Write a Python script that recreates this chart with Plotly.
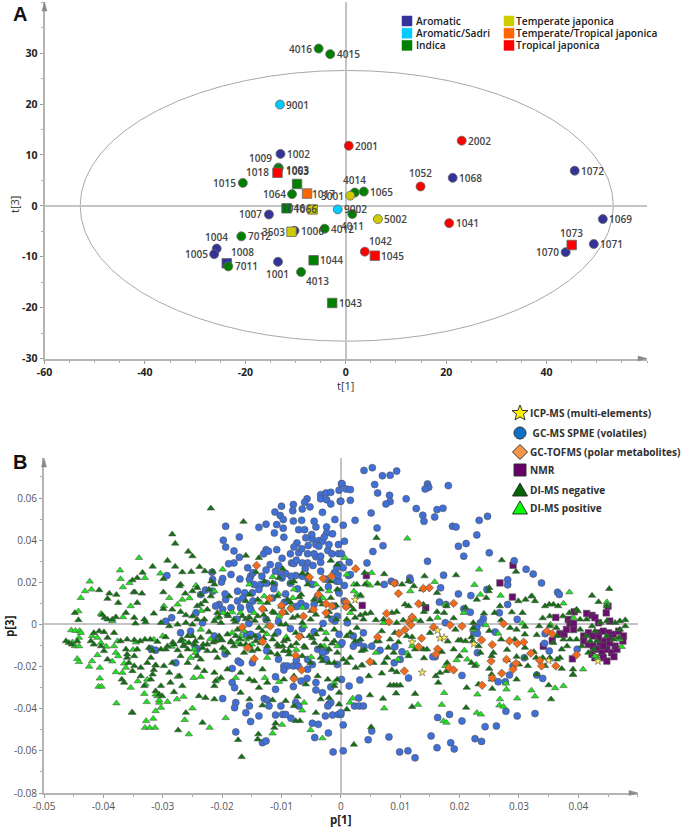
import plotly.graph_objects as go

W, H = 685, 829

# ---------- Panel A: score plot t[1] / t[3] ----------
SAMPLE_IDS = ["4016","4015","9001","2001","2002","1002","1009","1072","1068","1052","1015","1003","1063","1018","1010","1017","1064","3001","4014","1065","1046","1066","9002","4011","5002","1007","1006","3503","4012","7012","1004","1005","1008","7011","1001","1044","4013","1042","1045","1043","1041","1069","1071","1070","1073"]
T1 = [-5.4,-3.1,-13.1,0.6,23.1,-13.0,-13.4,45.6,21.3,14.9,-20.5,-13.4,-13.4,-13.6,-9.7,-7.7,-10.7,0.9,1.8,3.6,-11.8,-6.6,-1.6,1.3,6.4,-15.3,-10.2,-10.8,-4.2,-20.8,-25.7,-26.2,-23.7,-23.4,-13.5,-6.4,-8.9,3.8,5.8,-2.7,20.6,51.2,49.4,43.8,45.0]
T3 = [30.9,29.8,19.9,11.8,12.8,10.2,7.5,6.9,5.5,3.8,4.5,7.4,7.3,6.5,4.3,2.4,2.3,2.0,2.6,2.8,-0.5,-0.7,-0.7,-1.6,-2.6,-1.7,-4.9,-5.1,-4.5,-6.0,-8.4,-9.5,-11.3,-11.9,-11.0,-10.7,-13.0,-9.0,-9.8,-19.1,-3.4,-2.6,-7.5,-9.1,-7.7]
GROUPS = ["Indica","Indica","Aromatic/Sadri","Tropical japonica","Tropical japonica","Aromatic","Aromatic","Aromatic","Aromatic","Tropical japonica","Indica","Indica","Indica","Tropical japonica","Indica","Temperate/Tropical japonica","Indica","Temperate japonica","Indica","Indica","Indica","Temperate japonica","Aromatic/Sadri","Indica","Temperate japonica","Aromatic","Aromatic","Temperate japonica","Indica","Indica","Aromatic","Aromatic","Aromatic","Indica","Aromatic","Indica","Indica","Tropical japonica","Tropical japonica","Indica","Tropical japonica","Aromatic","Aromatic","Aromatic","Tropical japonica"]
SQUARE_IDS = ["1018","1010","1017","1046","1066","3503","1008","1044","1045","1043","1073"]
UNLABELLED = ["1010"]
GROUP_NAMES_LEFT = ["Aromatic","Aromatic/Sadri","Indica"]
GROUP_NAMES_RIGHT = ["Temperate japonica","Temperate/Tropical japonica","Tropical japonica"]
GROUP_COLORS = {"Aromatic":"#333399","Aromatic/Sadri":"#00CCFF","Indica":"#008000","Temperate japonica":"#CCCC00","Temperate/Tropical japonica":"#FF6600","Tropical japonica":"#FF0000"}
ELLIPSE_T1 = [-52.9, 53.3]
ELLIPSE_T3 = [-26.6, 26.6]
A_XTICKS = [-60,-40,-20,0,20,40]
A_YTICKS = [30,20,10,0,-10,-20,-30]
# label offsets from the sample's point, in screen pixels (right, down)
LABEL_OFFSETS = {"4016":(-18,0),"1009":(-18,-10),"1018":(-20,-1),"1003":(19,2),"1063":(19,2),"1017":(16,0),"3001":(-18,0),"4014":(0,-13),"1064":(-18,0),"1015":(-18,0),"1052":(0,-13),"1046":(7,0),"1066":(-7,0),"4011":(0,12),"1007":(-18,0),"3503":(-18,0),"1004":(0,-12),"1005":(-18,0),"1008":(16,-11),"1001":(0,12),"4013":(16,9),"1042":(16,-11),"1070":(-18,0),"1073":(0,-12)}

# ---------- Panel B: loading plot p[1] / p[3] ----------
GC_SPME = [(.0001,.0668),(-.0003,.0637),(-.0034,.0616),(-.0025,.0624),(-.0017,.0627),(-.0034,.0596),(-.0024,.0592),(-.0017,.0572),(-.0001,.0585),(-.0057,.0596),(-.0061,.058),(-.0065,.0548),(-.0052,.0558),(-.008,.0569),(-.01,.0561),(-.0081,.054),(-.0111,.0534),(-.0102,.0517),(-.0097,.0498),(-.0108,.0474),(-.0097,.0457),(-.0112,.0434),(-.0096,.0414),(-.0126,.0476),(-.0138,.0461),(-.0171,.0415),(-.0194,.0466),(-.0198,.04),(-.0194,.0367),(-.018,.0349),(-.0171,.0319),(-.018,.0292),(-.0189,.0288),(-.0157,.0269),(-.0126,.0355),(-.013,.0335),(-.0122,.0348),(-.0108,.0355),(-.0099,.0314),(-.0119,.0284),(-.0126,.0258),(-.0133,.0229),(-.011,.0253),(-.0083,.0292),(-.0079,.0289),(-.0074,.0387),(-.0079,.0368),(-.0071,.034),(-.0066,.0359),(-.0056,.0336),(-.0065,.0292),(-.0056,.0292),(-.0047,.028),(-.0034,.0295),(-.0042,.0321),(-.0034,.0324),(-.0048,.0406),(-.0042,.0463),(-.0045,.049),(-.0031,.0532),(-.001,.0498),(-.0024,.0463),(-.0024,.0434),(-.0014,.043),(-.0066,.0494),(-.008,.0491),(-.0071,.045),(-.0061,.045),(-.0049,.0427),(-.0037,.0398),(-.0031,.0395),(-.0059,.0411),(-.0042,.0379),(-.0037,.0371),(-.0022,.0351),(-.0004,.0336),(-.002,.0379),(-.0004,.0379),(-.0002,.0284),(-.0007,.0269),(-.0034,.0253),(-.0007,.0205),(-.0021,.0179),(-.0004,.0158),(-.0048,.019),(-.0065,.0229),(-.0076,.0232),(-.0084,.0229),(-.0093,.0242),(-.0101,.0237),(-.0099,.0221),(-.0112,.019),(-.0113,.0169),(-.0093,.0145),(-.0073,.0169),(-.0135,.019),(-.0138,.0166),(-.0146,.019),(-.0152,.0229),(-.0148,.0245),(-.0154,.0213),(-.017,.0216),(-.0185,.0237),(-.0217,.0248),(-.0199,.0218),(-.0201,.0201),(-.0216,.0213),(-.0293,.0232),(-.0216,.0158),(-.0205,.0095),(-.0194,.0118),(-.0211,.0087),(-.0199,.0071),(-.0185,.0079),(-.0174,.0111),(-.0169,.0079),(-.0154,.0087),(-.0148,.0111),(-.0149,.015),(-.0174,.0158),(-.0162,.015),(-.0152,.0071),(-.0228,.0163),(-.0236,.0142),(-.0244,.0055),(-.0233,.0008),(-.0285,.0032),(-.027,-.0039),(-.0253,-.0032),(-.0213,-.0055),(-.0207,-.0066),(-.0159,-.0047),(-.0152,-.0047),(-.014,-.0058),(-.0126,.0024),(-.0106,-.0036),(-.032,-.0115),(-.0312,-.0122),(-.0242,-.0118),(-.0278,-.0182),(-.0173,-.0174),(-.0183,-.0209),(-.0169,-.0182),(-.0149,-.0182),(-.0096,-.0197),(-.009,-.0197),(-.008,-.0197),(-.0072,-.0197),(-.0096,-.0216),(-.011,-.0248),(-.0056,-.0213),(-.0057,-.0256),(-.0067,-.0269),(-.008,-.0295),(-.011,-.0308),(-.0042,-.0276),(-.0042,-.0311),(-.0031,-.0324),(-.0017,-.0297),(-.0006,-.019),(0,-.0095),(-.0003,-.0047),(-.0025,-.0126),(-.0039,-.0118),(-.0031,-.0134),(-.0056,-.0166),(-.0048,-.019),(-.0183,-.0276),(-.0179,-.03),(-.0199,-.0352),(-.0177,-.0371),(-.0179,-.0395),(-.0154,-.0387),(-.016,-.0419),(-.0152,-.0461),(-.0138,-.0434),(-.0129,-.0352),(-.0124,-.0359),(-.0121,-.0387),(-.011,-.043),(-.0101,-.0387),(-.0098,-.0427),(-.0093,-.0427),(-.0084,-.0445),(-.0076,-.0371),(-.0071,-.0387),(-.002,-.0379),(-.0017,-.0371),(-.0022,-.0387),(-.0026,-.0434),(-.0014,-.043),(-.0004,-.0427),(0,-.0427),(-.0048,-.0469),(-.0038,-.0474),(-.0044,-.0537),(-.0021,-.0515),(-.0177,-.051),(-.0132,-.0561),(-.0126,-.0553),(-.0013,-.0605),(-.0067,.0101),(-.0059,.0087),(-.0011,.0087),(-.0006,.0039),(-.001,.0016),(-.0003,.0149),(-.0039,.0134),(-.0011,.0245),(-.0003,.0205),
(-.0085,.0335),(-.0075,.0305),(-.0055,.0375),(-.0028,.0415),(-.0015,.0335),(-.0045,.0335),(-.006,.0265),(-.0105,.028),(-.0125,.0195),(-.0085,.0195),(-.0055,.0215),(-.0025,.0215),(-.0005,.0235),(-.0115,.0125),(-.0095,.0105),(-.0075,.0085),(-.0045,.0095),(-.0175,.0025),(-.0165,.0125),(-.0195,.0145),(-.0155,.0005),(-.0125,-.0125),(-.0105,-.0165),(-.0075,-.017),(-.0025,-.0165),(-.0195,-.014),(-.0245,-.011),(-.0295,.0015),(-.0015,.0025),(-.003,.0005),(-.0045,-.0035),(-.0065,-.002),(-.0085,-.002),(-.0105,.0015),
(.0039,.0731),(.0053,.0744),(.007,.0706),(.0083,.0708),(.0094,.0728),(.0057,.0664),(.0062,.0624),(.0002,.0668),(.0009,.0643),(.0016,.064),(.0016,.0589),(0,.0585),(.0082,.0613),(.0083,.0583),(.0076,.0572),(.011,.0596),(.0146,.0667),(.0148,.0651),(.0142,.0643),(.0181,.0659),(.0127,.055),(.0162,.0545),(.0172,.0551),(.0138,.0518),(.014,.049),(.0158,.051),(.0051,.0529),(.0024,.0494),(.0004,.0471),(.0061,.0458),(.0188,.0466),(.0194,.0463),(.0233,.0494),(.0247,.0513),(.0229,.0425),(.0198,.0371),(.0211,.0384),(.0006,.0395),(.0071,.0374),(.0054,.0346),(.0001,.0336),(.0207,.0324),(.025,.034),(.0146,.03),(.0014,.0295),(.0004,.0269),(.0044,.0292),(.0292,.0302),(.0312,.0262),(.0324,.0239),(.0338,.0197),(.0281,.0212),(.0281,.0188),(.0365,.0153),(.0368,.0142),(.0173,.0234),(.0116,.0221),(.0117,.021),(.0085,.0205),(.0091,.0197),(.0073,.019),(.0013,.0232),(.0006,.0185),(.0016,.0237),(.0168,.0174),(.0198,.0145),(.0219,.0137),(.0246,.0166),(.0281,.0095),(.0207,.0074),(.0218,.0058),(.0166,.0106),(.0177,.0095),(.0267,.0055),(.0297,.0024),(.024,.0027),(.0235,.0008),(.0176,.0008),(.0229,-.0016),(.0224,-.004),(.023,-.0043),(.026,-.0036),(.0344,-.0044),(.0343,-.009),(.0351,-.0126),(.0398,-.0118),(.0091,-.0106),(.0066,-.0123),(.0052,-.0103),(.0039,-.0106),(.0021,-.0103),(.003,-.0087),(.0038,-.004),(.0103,-.013),(.0011,.0008),(.0006,.0111),(.0009,.0087),(.0021,-.0055),(.0002,-.0087),(.0159,-.0153),(.0155,-.0153),(.01,-.0166),(.009,-.0182),(.0114,-.0254),(.0204,-.0242),(.0284,-.024),(.033,-.024),(.034,-.0256),(.0265,-.0272),(.0277,-.0272),(.0309,-.0158),(.029,-.0197),(.023,-.0134),(.0032,-.0264),(.0014,-.0292),(.0001,-.0261),(.003,-.0349),(.0023,-.0387),(.0031,-.0387),(.0038,-.0387),(0,-.0419),(.0327,-.0423),(.0297,-.0434),(.0278,-.0412),(.0163,-.0442),(.0183,-.0427),(.0204,-.0458),(.0243,-.0485),(.0262,-.0482),(.0152,-.0529),(.0081,-.0534),(.0046,-.0547),(.0052,-.0506),(.0004,-.0477),(.0004,-.06),(.0099,-.0605),(.0113,-.06),(.0125,-.0633),(.0162,-.0585),(.0185,-.0562),(.0191,-.0591),(.0226,-.0542),(.0237,-.0555)]

DI_NEG = [(-.0219,.0551),(-.0164,.0488),(-.0284,.0428),(-.0279,.0384),(-.0257,.0346),(-.025,.0324),(-.0292,.0303),(-.0317,.0275),(-.0279,.0275),(-.0334,.0246),(-.0343,.0221),(-.0351,.021),(-.0267,.0248),(-.0252,.025),(-.0238,.0273),(-.0229,.0253),(-.0299,.0216),(-.0216,.0251),(-.016,.0327),(-.0138,.0316),(-.0143,.0248),(-.0407,.0163),(-.039,.0147),(-.0393,.0122),(-.0378,.0141),(-.0375,.0103),(-.0349,.0153),(-.0347,.0153),(-.0335,.0147),(-.0343,.0103),(-.0299,.0153),(-.0442,.0021),(-.0448,.0055),(-.0402,.0046),(-.0398,.0032),(-.0393,.0024),(-.0385,.0024),(-.0379,.0035),(-.0362,.0055),(-.0348,.0032),(-.0346,.0005),(-.0331,.0024),(-.0329,.0011),(-.0315,.0052),(-.0299,.0074),(-.0284,.0071),(-.027,.006),(-.0261,.0044),(-.025,.0039),(-.0242,.0087),(-.0236,.0095),(-.0229,.0111),(-.0219,.0134),(-.0222,.0166),(-.0213,.019),(-.0218,.0205),(-.027,.019),(-.0272,.0182),(-.0262,.0147),(-.025,.0158),(-.0242,.0174),(-.0236,.0142),(-.0188,.0134),(-.0154,.0142),(-.0129,.0205),(-.0115,.0197),(-.0098,.0264),(-.0065,.0242),(-.0056,.0237),(-.0017,.0303),(-.0006,.0284),(-.0463,-.0079),(-.0458,-.0087),(-.0453,-.0095),(-.0444,-.0079),(-.0416,-.004),(-.0407,-.0032),(-.0399,-.0036),(-.0393,-.0063),(-.036,-.0071),(-.0348,-.0074),(-.0338,-.0079),(-.033,-.0071),(-.0321,-.0071),(-.0309,-.0082),(-.0295,-.0118),(-.0275,-.0122),(-.0258,-.0055),(-.025,-.0055),(-.0236,-.0063),(-.0222,-.0036),(-.0205,-.0055),(-.0191,-.0047),(-.0174,-.0024),(-.0154,-.0063),(-.0138,-.0016),(-.0124,.0024),(-.0101,0),(-.0093,0),(-.0081,.0032),(-.0065,.0008),(-.0034,-.0024),(-.0011,-.0024),(-.0393,-.0166),(-.0399,-.0126),(-.0416,-.0095),(-.0362,-.0118),(-.036,-.0158),(-.0357,-.0182),(-.0348,-.0197),(-.0337,-.0205),(-.036,-.0142),(-.0369,-.0261),(-.0365,-.0276),(-.0331,-.0292),(-.0312,-.0194),(-.0315,-.0216),(-.0317,-.0237),(-.0303,-.0292),(-.0312,-.0316),(-.0306,-.0332),(-.0287,-.0276),(-.0272,-.0245),(-.0267,-.0292),(-.0281,-.0321),(-.0284,-.0182),(-.027,-.015),(-.0258,-.0118),(-.0242,-.015),(-.0236,-.0166),(-.0225,-.0126),(-.0213,-.0126),(-.0208,-.0158),(-.0199,-.0111),(-.0191,-.0134),(-.018,-.0103),(-.0163,-.0134),(-.0149,-.0126),(-.0135,-.0087),(-.0124,-.0103),(-.0118,-.0134),(-.0096,-.0079),(-.0084,-.0103),(-.0067,-.0055),(-.0045,-.0087),(-.0025,-.0071),(-.002,-.0118),(-.0034,-.0158),(-.0031,-.0174),(-.0011,-.0182),(-.0132,-.0213),(-.0146,-.0269),(-.0138,-.03),(-.0169,-.0324),(-.0154,-.0355),(-.0239,-.034),(-.0228,-.0348),(-.0213,-.0355),(-.0211,-.0269),(-.0213,-.0292),(-.0202,-.0253),(-.0261,-.0419),(-.0233,-.0466),(-.0274,-.0502),(-.0173,-.0548),(-.0167,-.0629),(-.0139,-.0521),(-.014,-.0545),(-.011,-.0469),(-.0112,-.049),(-.0093,-.0363),(-.0073,-.0343),(-.0069,-.0458),(-.0076,-.0458),(-.0042,-.0419),(-.002,-.0348),(-.0003,-.0379),(-.0006,-.0261),(-.0132,-.0384),(-.0115,-.0359),(-.0351,-.0419),
(-.0295,-.006),(-.0283,-.0085),(-.0268,-.007),(-.0265,-.01),(-.0245,-.008),(-.0232,-.0095),(-.0215,-.0085),(-.02,-.0075),(-.0185,-.0085),(-.017,-.007),(-.016,-.0095),(-.0145,-.0055),(-.013,-.0065),(-.0112,-.005),(-.0105,-.0105),(-.0088,-.0125),(-.0075,-.009),(-.006,-.011),(-.0048,-.0065),(-.0035,-.0105),(-.0015,-.009),(-.0205,.0035),(-.019,.004),(-.0178,.0012),(-.016,.0025),(-.0145,.0018),(-.013,.0045),(-.0115,.006),(-.01,.0085),(-.0085,.0105),(-.007,.013),(-.005,.0065),(-.0035,.011),(-.002,.006),(-.0008,.009),
(-.0323,-.0111),(-.0317,-.0126),(-.0303,-.0118),(-.0292,-.0103),(-.0281,-.0095),(-.027,-.0079),(-.0264,-.0103),(-.0256,-.0087),(-.0247,-.0095),(-.0233,-.0111),(-.0225,-.0095),(-.0211,-.0079),(-.0202,-.0071),(-.0185,-.0079),(-.0177,-.0055),(-.0169,-.0095),(-.0154,-.0103),(-.0143,-.0079),(-.014,-.0118),(-.0132,-.0032),(-.0115,-.0071),(-.0107,-.0095),(-.0098,-.0103),(-.009,-.0071),(-.0076,-.004),(-.0062,-.0103),(-.0053,-.0055),(-.0042,-.0047),(-.0034,-.0103),(-.0011,-.0079),(-.0006,-.0134),(-.0107,-.0142),(-.0096,-.0126),(-.0087,-.0142),(-.0065,-.015),(-.0051,-.0182),(-.002,-.0182),(-.0303,.0008),(-.0289,-.0008),(-.0275,0),(-.0261,.0008),(-.025,0),(-.0242,.0024),(-.023,.0024),(-.0213,.0016),(-.0202,.0008),(-.018,.0024),(-.0166,.0039),(-.0154,.0032),(-.014,.0039),(-.0129,.0071),(-.0112,.0055),(-.0093,.0055),(-.0073,.0039),(-.0051,.0024),(-.0042,.0047),(-.0022,.0039),(-.0008,.0024),(-.0225,.0071),(-.0208,.0055),(-.0191,.0047),(-.016,.0111),(-.014,.0118),(-.0124,.0103),(-.0107,.0134),(-.009,.0118),(-.0067,.0142),(-.0045,.0118),(-.0031,.0095),(-.0017,.0126),(-.0006,.0166),(-.0079,.0205),(-.0104,.0221),(-.0084,.0197),(-.0056,.019),(-.0034,.0166),(-.0017,.0205),(-.0258,-.0182),(-.0242,-.0205),(-.023,-.0221),(-.0213,-.0229),(-.0191,-.0213),(-.0169,-.0229),(-.0154,-.0261),(-.0124,-.0276),(-.0096,-.0261),(-.0079,-.0245),(-.0059,-.0284),(-.0039,-.0245),(-.0022,-.0261),(-.0011,-.0292),(-.0034,-.0355),(-.0003,-.0324),(-.0079,-.0387),(-.0421,-.0079),(-.0404,-.0103),(-.0382,-.004),(-.0371,-.0079),(-.0348,-.015),(-.0343,-.0118),(-.0326,-.0182),(-.032,-.0158),(-.0298,-.0197),(-.0289,-.0229),(-.0337,-.0245),(-.0351,-.0221),(-.032,-.0261),(-.0301,-.034),
(.0271,.0305),(.0295,.0251),(.006,.0411),(.0073,.0239),(.0141,.0229),(.0194,.0234),(.025,.0174),(.0249,.0158),(.0452,.0169),(.0423,.0137),(.0434,.0107),(.0448,.0087),(.0311,.0118),(.0299,.0111),(.0268,.0087),(.0245,.0126),(.0229,.0118),(.0162,.015),(.0137,.0166),(.0114,.0205),(.0103,.019),(.0123,.0182),(.0062,.0194),(.004,.0245),(.0027,.019),(.0041,.019),(.0033,.0139),(.0016,.0087),(.0021,.0071),(.005,.0055),(.0041,.0051),(.0033,.0044),(.001,.0024),(.0024,.0032),(.0038,.0024),(.0059,.0021),(.0072,.0024),(.0086,.0055),(.0094,.006),(.0108,.0095),(.0114,.0087),(.0094,.0008),(.0091,-.004),(.0069,-.0032),(.0027,-.0016),(.0016,-.004),(.0064,-.0079),(.0033,-.0071),(.0024,-.0079),(.001,-.0055),(.0083,-.0071),(.0097,-.0084),(.0111,-.0055),(.0134,.0016),(.0139,.0095),(.0162,.006),(.015,.0024),(.0174,.0055),(.0178,.0087),(.0193,-.0024),(.0202,-.0074),(.021,-.0079),(.0198,-.0076),(.019,-.0118),(.0139,-.0118),(.0145,-.0118),(.0125,-.0118),(.0114,-.015),(.0089,-.0134),(.0078,-.0158),(.0073,-.0182),(.0055,-.0182),(.0036,-.0194),(.0004,-.0166),(.001,-.0182),(.0016,-.0158),(.0025,-.0205),(.0086,-.0216),(.0069,-.0232),(.0047,-.0245),(.0094,-.0226),(.0083,-.0289),(.0089,-.0289),(.0094,-.0289),(.01,-.0289),(.0093,-.0327),(.0125,-.0329),(.012,-.0391),(.0071,-.0352),(.0049,-.0336),(.001,-.0403),(.0022,-.057),(.0051,-.0487),(.016,-.0245),(.0167,-.0229),(.0164,-.0276),(.0179,-.0182),(.0178,-.0221),(.0212,-.03),(.0211,-.0395),(.022,-.0182),(.0226,-.0197),(.0235,-.0134),(.0223,.0008),(.0223,-.0016),(.0241,.0052),(.0259,.0055),(.0288,.0058),(.0285,-.0016),(.0296,-.0024),(.027,-.0071),(.0254,-.015),(.0257,-.0134),(.0222,-.0079),(.0232,-.0103),(.0293,-.0071),(.031,-.0047),(.0306,.0055),(.0321,.0134),(.0327,.0111),(.0344,.0087),(.0351,.0095),(.0358,.0095),(.0366,.0087),(.0374,.0039),(.0385,.0055),(.0397,.0071),(.0352,.0039),(.0352,-.0008),(.0363,-.0016),(.0334,-.0008),(.031,-.0158),(.0315,-.0197),(.0329,-.0158),(.034,-.0158),(.0352,-.0158),(.0369,-.0158),(.0344,-.0197),(.0372,-.021),(.0391,-.0213),(.0391,-.0237),(.0296,-.0261),(.0254,-.0237),(.0255,-.0305),(.035,-.0288),(.0354,-.0355),(.033,-.0237),(.0296,-.0153),(.0254,-.0261),(.0232,-.0284),(.0399,.0063),(.0403,.0024),(.0403,-.0024),(.0414,.0024),(.0423,-.0008),(.0428,-.0032),(.0437,.0008),(.0448,.0016),(.0462,.0008),(.047,.0016),(.0479,.0021),(.0479,-.0008),(.047,-.0024),(.0414,-.0055),(.042,-.0079),(.0431,-.0079),(.0448,-.0055),(.0459,-.0071),(.0468,-.0063),(.0397,-.0071),(.0375,-.0071),(.0386,-.0071),(.0364,-.0055),(.0358,-.0087),(.0381,-.0103),(.0372,-.0118),(.0364,-.0166),(.0406,-.0103),(.0417,-.0134),(.0426,-.0118),
(.004,-.012),(.012,-.006),(.015,-.004),(.018,-.008),(.022,-.006),(.025,-.003),(.028,-.012),(.031,-.011),(.033,-.005),(.014,-.016),(.017,-.013),(.02,-.015),(.025,-.021),(.03,-.019),(.028,-.017),(.0325,-.013),(.0105,.002),(.014,.006),(.019,.003),(.021,.008),(.027,.002),(.031,-.001),(.034,.003),(.006,-.008),(.008,-.011),(.0035,-.0125)]

DI_POS = [(-.034,.0316),(-.0372,.0257),(-.0371,.0216),(-.0423,.0204),(-.0431,.0158),(-.0438,.0126),(-.042,.0166),(-.0442,.0063),(-.0454,-.0027),(-.0447,-.003),(-.044,-.003),(-.0441,-.0063),(-.0452,-.0084),(-.0448,-.0103),(-.0441,-.0103),(-.0444,-.0163),(-.0441,-.0178),(-.0424,-.02),(-.0419,-.0174),(-.0406,-.0205),(-.0406,-.0256),(-.0408,-.0295),(-.0403,-.0295),(-.0367,.0177),(-.0356,.0197),(-.033,.0221),(-.0354,.0087),(-.0367,.0035),(-.0385,.0016),(-.0404,.0051),(-.0438,-.004),(-.0419,-.0055),(-.041,-.0063),(-.0404,-.0087),(-.0376,-.0079),(-.0382,-.0103),(-.0379,-.0134),(-.0378,-.0374),(-.0352,-.0417),(-.0327,-.0368),(-.0328,-.0458),(-.0316,-.0447),(-.033,-.049),(-.0322,-.049),(-.0313,-.049),(-.0312,-.0411),(-.0306,-.0371),(-.0303,-.0395),(-.0309,-.034),(-.0306,-.0359),(-.0326,-.0261),(-.0329,-.0284),(-.0331,-.0329),(-.0312,-.0332),(-.0342,-.0269),(-.0354,-.03),(-.0368,-.0229),(-.0362,-.0205),(-.0379,-.0226),(-.0312,-.0193),(-.0292,-.0367),(-.0276,-.0355),(-.0265,-.0343),(-.025,-.0398),(-.0263,-.0453),(-.0256,-.0521),(-.0221,-.049),(-.0194,-.0444),(-.0115,-.0517),(-.0099,-.0476),(-.0031,-.054),(-.0051,-.0501),(-.0065,-.0408),(-.0062,-.0371),(-.0011,-.0276),(-.0104,-.0272),(-.0128,-.0253),(-.0177,-.0253),(-.0236,-.0248),(-.0248,-.0253),(-.0208,-.0261),(-.0275,-.0248),(-.0304,.0242),(-.0289,.0126),(-.0267,.0118),(-.0298,.0087),(-.0244,.0185),(-.0213,.0158),(-.0169,.0055),(-.0183,.0058),(-.0199,.0261),(-.0198,.0055),(-.0146,.0055),(-.0115,.0226),(-.0079,.0166),(-.0042,.019),(-.002,.0158),(-.0081,.0126),(-.0104,.0039),(-.0084,.0087),(-.0062,-.0008),(-.0236,-.0024),(-.0169,-.0055),(-.016,-.0071),(-.0247,-.0118),(-.0253,-.0158),(-.0124,-.0008),(-.0183,-.004),(-.0163,-.0032),(-.0124,-.0158),(-.0028,-.0103),(-.0006,-.0103),(-.0154,.019),(-.0129,.0134),
(-.0315,-.0071),(-.03,-.0055),(-.0285,-.0105),(-.0262,-.0085),(-.0245,-.0135),(-.022,-.007),(-.0195,-.012),(-.0175,-.0085),(-.015,-.0095),(-.0125,-.0045),(-.0092,-.006),(-.0075,-.012),(-.005,-.0155),(-.0025,-.004),(-.0275,.0095),(-.0255,.0125),(-.0235,.0065),(-.021,.003),(-.0155,.0035),(-.0135,.0105),(-.0105,.0145),(-.0065,.008),(-.003,.0125),(-.0375,-.015),(-.0395,-.0105),(-.041,-.0145),(-.035,-.012),(-.0345,-.0085),(-.0385,-.0175),(-.0365,-.0185),
(.0112,.0408),(.0233,.0261),(.0158,.0202),(.0225,.0188),(.0052,.0245),(.0049,.0185),(.0022,.019),(.0044,.0197),(.0117,.0158),(.0235,.0142),(.0269,.0137),(.0322,.0134),(.0385,.0153),(.0375,.01),(.0448,.0106),(.0448,.0095),(.0176,.0095),(.0207,.0055),(.0244,-.0003),(.0163,.0032),(.0265,-.0043),(.0306,.0005),(.0353,0),(.0392,.0032),(.047,-.0071),(.0473,-.0106),(.0432,-.0158),(.0428,-.015),(.0351,-.0166),(.012,-.0103),(.0112,-.0137),(.0059,-.0134),(.0096,-.0166),(.0035,-.0194),(.0195,-.0169),(.0213,-.0166),(.0208,-.0123),(.0176,-.0197),(.0228,-.019),(.0278,-.028),(.0279,-.0308),(.023,-.0332),(.0174,-.0325),(.017,-.0381),(.013,-.0381),(.0073,-.0398),(.002,-.0351),(.0015,-.0371),(.0229,-.0419),(.0236,-.0427),(.0268,-.0355),(.0267,-.0384),(.0274,-.039),(.0297,-.0351),(.0321,-.0313),(.0327,-.0341),(.0361,-.0302),(.0375,-.0292),(.0391,-.0239),(.0408,-.0213),(.0173,-.0458),(.0178,-.0466),(.0007,.0316),(.0223,-.0024),(.0125,.0024),(.0072,.0008),(.0097,-.004),(.0033,.0134),(.0022,.0158),(.0027,.0142),(.0016,.0055),(.001,.0237)]

GC_TOF = [(-.0142,.028),(-.0053,.0224),(-.003,.0218),(-.0016,.0229),(-.0038,.0142),(-.0025,.0098),(-.0015,.0087),(-.012,.0123),(-.01,.009),(-.0098,.0058),(-.0084,.0074),(-.0063,.0039),(-.0046,.0071),(-.0132,-.0082),(-.0157,-.0111),(-.0146,-.0163),(-.0076,-.0147),(-.007,-.0058),(-.0066,-.0216),(-.0079,-.0258),(-.0132,.0074),(-.0166,-.0013),(-.0119,-.0008),(-.0025,.0055),(.0025,.0264),(.009,.0196),(.0139,.0171),(.0149,.0174),(.0131,.0098),(.019,.01),(.0077,.0052),(.0081,.0013),(.0115,.0013),(.012,.0035),(.0118,-.0003),(.0108,-.0025),(.0098,-.0043),(.0156,-.0013),(.0184,-.0003),(.0204,-.0008),(.0274,.0003),(.0062,-.006),(.0136,-.0066),(.0131,-.0106),(.0163,-.0117),(.016,-.0142),(.0049,-.0177),(.0107,-.0221),(.0182,-.0205),(.019,-.0216),(.0237,-.0074),(.0255,-.0096),(.0284,-.0079),(.0297,-.009),(.0308,-.0084),(.032,-.0137),(.0253,-.0174),(.0279,-.0166),(.0295,-.0185),(.029,-.0213),(.0271,-.0232),(.0255,-.0254),(.0238,-.0289),(.0335,-.0171),(.0338,-.0197),(.0362,-.0197),(.0397,-.0144),(.0347,-.0032),(.0356,-.0044),(.0009,.0106),(.0009,.0084),(.0097,.0147)]

ICP_MS = [(.0024,.0117),(.0163,-.0028),(.0167,-.0065),(.0174,-.0063),(.012,-.0084),(.0224,-.0092),(.0137,-.0228),(.035,-.0171),(.0433,-.0174)]

NMR = [(.029,.0281),(.0268,.0197),(.0289,.013),(.0043,.0232),(.0036,.009),(.0143,.0079),(.0393,.006),(.0362,.0033),(.0414,.0052),(.0423,.0043),(.0428,.0032),(.0447,.0055),(.045,.0087),(.0434,.0008),(.0383,.0024),(.0386,.0005),(.0392,.0005),(.0369,-.0044),(.0376,-.0047),(.038,-.0024),(.0392,-.0024),(.0356,-.0076),(.0341,-.0103),(.039,-.0163),(.0453,.0016),(.0409,-.0055),(.0417,-.004),(.0425,-.0055),(.0434,-.004),(.0442,-.0032),(.0451,-.004),(.0459,-.0047),(.0468,-.0032),(.0476,-.0055),(.0475,-.0079),(.0409,-.0079),(.0417,-.0095),(.0425,-.0103),(.0437,-.0087),(.0445,-.0079),(.0453,-.0087),(.0462,-.0103),(.0423,-.0142),(.0431,-.0118),(.044,-.0134),(.0448,-.0118),(.0456,-.0134),(.0465,-.0118),(.0442,-.0158),(.0448,-.0174),(.046,-.0153),(.0442,-.0103),(.0434,-.0063),(.0453,-.0063),(.0428,-.0158)]

B_XTICKS = [-.05,-.04,-.03,-.02,-.01,0,.01,.02,.03,.04]
B_XLABELS = ["-0.05","-0.04","-0.03","-0.02","-0.01","0","0.01","0.02","0.03","0.04"]
B_YTICKS = [.06,.04,.02,0,-.02,-.04,-.06,-.08]
B_YLABELS = ["0.06","0.04","0.02","0","-0.02","-0.04","-0.06","-0.08"]

B_LEGEND = ["ICP-MS (multi-elements)"," GC-MS SPME (volatiles)","GC-TOFMS (polar metabolites)","NMR","DI-MS negative","DI-MS positive"]

def fx(px): return px / W
def fy(py): return 1 - py / H

BOLD = "Open Sans"
AXIS_GREY = "#B4B4B4"
fig = go.Figure()

# panel A points
for g in GROUP_NAMES_LEFT + GROUP_NAMES_RIGHT:
    idx = [i for i, n in enumerate(GROUPS) if n == g]
    fig.add_trace(go.Scatter(
        x=[T1[i] for i in idx], y=[T3[i] for i in idx], mode="markers", name=g,
        text=[SAMPLE_IDS[i] for i in idx], showlegend=False,
        marker=dict(size=[9.5 if SAMPLE_IDS[i] in SQUARE_IDS else 9 for i in idx], opacity=1,
                    symbol=["square" if SAMPLE_IDS[i] in SQUARE_IDS else "circle" for i in idx],
                    color=GROUP_COLORS[g], line=dict(color="#666666", width=0.8)),
        xaxis="x", yaxis="y"))

# panel B points
B_SERIES = [("NMR", NMR, "square", "#6A0F6E", 6.5),
            ("GC-MS SPME (volatiles)", GC_SPME, "circle", "#3F6FD8", 7),
            ("DI-MS positive", DI_POS, "triangle-up", "#19E619", 6.5),
            ("DI-MS negative", DI_NEG, "triangle-up", "#0E720E", 6.5),
            ("GC-TOFMS (polar metabolites)", GC_TOF, "diamond", "#F26A1B", 6.5),
            ("ICP-MS (multi-elements)", ICP_MS, "star", "#FFF04A", 6)]
for name, pts, sym, col, size in B_SERIES:
    fig.add_trace(go.Scatter(
        x=[p[0] for p in pts], y=[p[1] for p in pts], mode="markers", name=name, showlegend=False,
        marker=dict(size=size, symbol=sym, color=col, line=dict(color="#555555", width=0.6)),
        xaxis="x2", yaxis="y2"))

ann = []
for i, sid in enumerate(SAMPLE_IDS):
    if sid in UNLABELLED:
        continue
    dx, dy = LABEL_OFFSETS.get(sid, (18, 0))
    ann.append(dict(x=T1[i], y=T3[i], xref="x", yref="y", text=sid, showarrow=False,
                    xshift=dx, yshift=-dy, font=dict(family=BOLD, size=10, color="#444444", weight=600)))

def note(px, py, text, size, color="#222222", family=BOLD, weight=700, angle=0, anchor="center"):
    ann.append(dict(x=fx(px), y=fy(py), xref="paper", yref="paper", text=text, showarrow=False,
                    xanchor=anchor, yanchor="middle", textangle=angle,
                    font=dict(family=family, size=size, color=color, weight=weight)))

note(20, 14, "A", 20, "#111111", "Liberation Sans")
note(20, 462, "B", 20, "#111111", "Liberation Sans")
note(345, 385, "t[1]", 11, "#333333", weight=400)
note(14, 205, "t[3]", 11, "#333333", weight=400, angle=-90)
note(340, 819, "p[1]", 11.5, "#222222")
note(9, 627, "p[3]", 11.5, "#222222", angle=-90)

shapes = []
def key_path(px, py, path, fill, line="#666666", lw=1):
    shapes.append(dict(type="path", xref="paper", yref="paper", xsizemode="pixel", ysizemode="pixel",
                       xanchor=fx(px), yanchor=fy(py), path=path, fillcolor=fill,
                       line=dict(color=line, width=lw), layer="above"))

SQUARE10 = "M -5 -5 L 5 -5 L 5 5 L -5 5 Z"
for j, g in enumerate(GROUP_NAMES_LEFT):
    py = 21 + j * 12.2
    key_path(407, py, SQUARE10, GROUP_COLORS[g], line=GROUP_COLORS[g], lw=0.5)
    note(413.5, py, g, 10.2, anchor="left", weight=600)
for j, g in enumerate(GROUP_NAMES_RIGHT):
    py = 21 + j * 12.2
    key_path(509, py, SQUARE10, GROUP_COLORS[g], line=GROUP_COLORS[g], lw=0.5)
    note(514, py, g, 10.2, anchor="left", weight=600)

STAR = "M 0 8 L 2.2 2.6 L 8 2.4 L 3.5 -1.2 L 5 -7 L 0 -3.8 L -5 -7 L -3.5 -1.2 L -8 2.4 L -2.2 2.6 Z"
CIRCLE = "M 6 0 C 6 3.3 3.3 6 0 6 C -3.3 6 -6 3.3 -6 0 C -6 -3.3 -3.3 -6 0 -6 C 3.3 -6 6 -3.3 6 0 Z"
DIAMOND = "M 0 7.5 L 7.5 0 L 0 -7.5 L -7.5 0 Z"
SQ = "M -6 -6 L 6 -6 L 6 6 L -6 6 Z"
TRI = "M -7.5 -6 L 7.5 -6 L 0 7 Z"
B_KEYS = [(STAR, "#FFF200"), (CIRCLE, "#0F6FC6"), (DIAMOND, "#F79646"), (SQ, "#660066"), (TRI, "#006600"), (TRI, "#00FF00")]
B_ROWS = [413, 433, 452, 470, 490, 508]
for (path, col), label, py in zip(B_KEYS, B_LEGEND, B_ROWS):
    key_path(520, py, path, col, line="#333333", lw=1)
    note(527.5, py, label, 10.1, "#2F2F2F", anchor="left")

# arrow heads at the axis ends
AR_R = "M -9 -2.5 L 0 0 L -9 2.5 Z"
AR_U = "M -2.5 -9 L 0 0 L 2.5 -9 Z"
key_path(647, 358.5, AR_R, "#8A8A8A", line="#8A8A8A", lw=0.5)
key_path(44.5, 2, AR_U, "#8A8A8A", line="#8A8A8A", lw=0.5)
key_path(638, 793, AR_R, "#8A8A8A", line="#8A8A8A", lw=0.5)
key_path(44, 458, AR_U, "#8A8A8A", line="#8A8A8A", lw=0.5)

# confidence ellipse
shapes.append(dict(type="circle", xref="x", yref="y", x0=ELLIPSE_T1[0], x1=ELLIPSE_T1[1],
                   y0=ELLIPSE_T3[0], y1=ELLIPSE_T3[1], line=dict(color="#A8A8A8", width=1), layer="below"))

common = dict(showgrid=False, showline=True, linecolor=AXIS_GREY, linewidth=2, zeroline=True, automargin=False,
              zerolinecolor="#C4C4C4", zerolinewidth=2, ticks="outside", ticklen=3, tickcolor="#999999", tickwidth=1)
a_font = dict(family=BOLD, size=10.5, color="#222222", weight=700)
b_font = dict(family=BOLD, size=10, color="#555555", weight=400)

fig.update_layout(
    width=W, height=H, margin=dict(l=0, r=0, t=0, b=0), paper_bgcolor="white", plot_bgcolor="white",
    showlegend=False, annotations=ann, shapes=shapes, hovermode="closest",
    xaxis=dict(domain=[fx(44.5), fx(647)], range=[-60, 60.0], tickvals=A_XTICKS, ticktext=[str(v) for v in A_XTICKS],
               tickfont=a_font, minor=dict(dtick=5, ticks="outside", ticklen=2, tickcolor="#AAAAAA"), anchor="y", **common),
    yaxis=dict(domain=[fy(358.5), fy(2)], range=[-30, 40.05], tickvals=A_YTICKS, ticktext=[str(v) for v in A_YTICKS],
               tickfont=a_font, minor=dict(dtick=5, ticks="outside", ticklen=2, tickcolor="#AAAAAA"), anchor="x", **common),
    xaxis2=dict(domain=[fx(44), fx(638)], range=[-.05, .05005], tickvals=B_XTICKS, ticktext=B_XLABELS,
                tickfont=b_font, minor=dict(dtick=.005, ticks="outside", ticklen=2, tickcolor="#AAAAAA"), anchor="y2", **common),
    yaxis2=dict(domain=[fy(793), fy(458)], range=[-.08, .079], tickvals=B_YTICKS, ticktext=B_YLABELS,
                tickfont=b_font, minor=dict(dtick=.01, ticks="outside", ticklen=2, tickcolor="#AAAAAA"), anchor="x2", **common),
)

fig.write_html("out.html", post_script="document.body.style.margin='0';", config=dict(displayModeBar=False))
